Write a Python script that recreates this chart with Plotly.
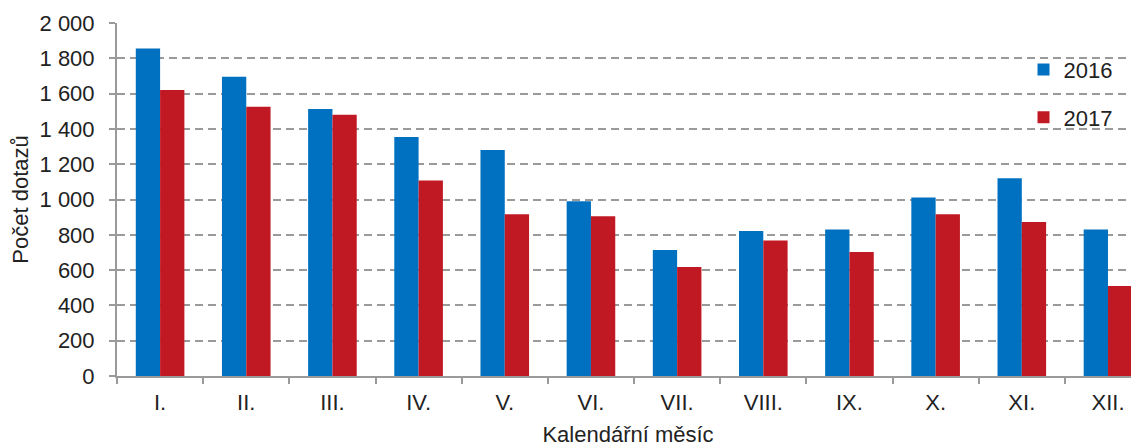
import plotly.graph_objects as go

months = ["I.", "II.", "III.", "IV.", "V.", "VI.", "VII.", "VIII.", "IX.", "X.", "XI.", "XII."]
y2016 = [1855, 1695, 1513, 1354, 1280, 990, 714, 821, 830, 1012, 1120, 830]
y2017 = [1620, 1525, 1480, 1108, 916, 905, 617, 768, 702, 916, 872, 510]

font_name = "Liberation Sans, Arial, sans-serif"
grey = "#9a9a9a"

fig = go.Figure()
fig.add_trace(go.Bar(x=months, y=y2016, name="2016", marker_color="#0070c0",
                     marker_line_width=0, legendgroup="a"))
fig.add_trace(go.Bar(x=months, y=y2017, name="2017", marker_color="#c01923",
                     marker_line_width=0, legendgroup="b"))

# the page has an 8px body margin, so margins are a bit smaller than measured
fig.update_layout(
    width=1139, height=448,
    margin=dict(l=109, r=8, t=15, b=80),
    plot_bgcolor="white", paper_bgcolor="white",
    font=dict(family=font_name, size=22, color="#222"),
    bargap=0.436, bargroupgap=0,
    showlegend=True,
    legend=dict(x=0.887, y=0.927, xanchor="left", yanchor="top",
                font=dict(size=22), itemwidth=30, tracegroupgap=16,
                traceorder="grouped", bgcolor="rgba(0,0,0,0)"),
    separators=", ",
)
fig.update_xaxes(
    automargin=False,
    range=[-0.5, 11.36],
    showline=True, linecolor=grey, linewidth=2,
    ticks="outside", tickson="boundaries", ticklen=6, tickcolor=grey, tickwidth=2,
    ticklabelstandoff=6,
    tickfont=dict(size=22),
    title=dict(text="Kalendářní měsíc", font=dict(size=22), standoff=12),
)
fig.update_yaxes(
    automargin=False,
    range=[0, 2000], dtick=200, tickformat=",d",
    showline=True, linecolor=grey, linewidth=2,
    ticks="outside", ticklen=6, tickcolor=grey, tickwidth=2,
    ticklabelstandoff=10,
    showgrid=True, gridcolor=grey, griddash="8px,5px", gridwidth=2,
    zeroline=False,
    tickfont=dict(size=22),
    title=dict(text="Počet dotazů", font=dict(size=22), standoff=8),
)

fig.write_html("out.html")
